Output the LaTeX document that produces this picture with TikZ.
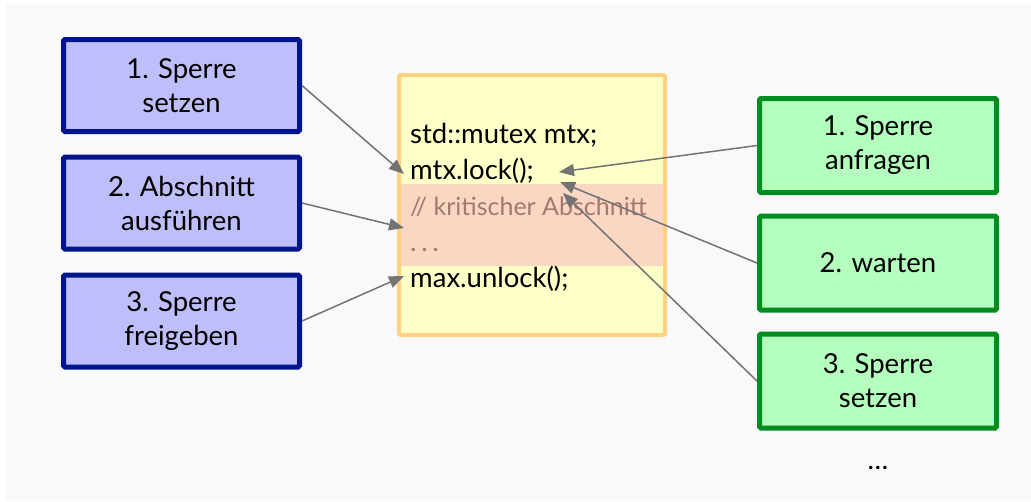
\documentclass[tikz,border=0pt]{standalone}
\usepackage{fontspec}
\setmainfont{Lato}
\usetikzlibrary{arrows.meta}
\definecolor{bgc}{RGB}{249,249,249}
\definecolor{bluebd}{RGB}{0,20,140}
\definecolor{bluefill}{RGB}{190,190,250}
\definecolor{greenbd}{RGB}{0,140,30}
\definecolor{greenfill}{RGB}{180,255,190}
\definecolor{orangebd}{RGB}{255,210,130}
\definecolor{yellowfill}{RGB}{255,255,200}
\definecolor{pinkband}{RGB}{250,215,195}
\definecolor{commentc}{RGB}{165,120,110}
\definecolor{arrowc}{RGB}{115,115,115}
\tikzset{
  bluebox/.style={draw=bluebd, fill=bluefill, line width=5pt, rounded corners=1.5pt,
    minimum width=236pt, minimum height=92pt, inner sep=0pt, align=center, font=\boxfont},
  greenbox/.style={draw=greenbd, fill=greenfill, line width=5pt, rounded corners=1.5pt,
    minimum width=237pt, minimum height=94pt, inner sep=0pt, align=center, font=\boxfont},
  codeline/.style={anchor=base west, inner sep=0pt, font=\boxfont},
  conn/.style={draw=arrowc, line width=1.5pt, -{Triangle[length=15pt,width=12pt]}},
}
\newcommand{\boxfont}{\fontsize{27.5}{34}\selectfont}
\newcommand{\commentfont}{\fontsize{25}{34}\selectfont}
\begin{document}
\begin{tikzpicture}[x=1pt,y=-1pt]
\useasboundingbox (0,0) rectangle (1031,501);
\fill[bgc] (6,4) rectangle (1031,501);
% center box
\fill[yellowfill] (399,75) rectangle (665,335);
\fill[pinkband] (399,184) rectangle (665,266);
\draw[orangebd, line width=4pt, rounded corners=1.5pt] (399,75) rectangle (665,335);
\node[codeline] (c1) at (410,143) {std::mutex mtx;};
\node[codeline] (c2) at (410,179) {mtx.lock();};
\node[codeline, text=commentc, font=\commentfont] (c3) at (410,215) {// kritischer Abschnitt};
\node[codeline, text=commentc] (c4) at (410,251) {.\,.\,.};
\node[codeline] (c5) at (410,287) {max.unlock();};
% left boxes
\node[bluebox] (b1) at (181.5,85.5) {1. Sperre\\setzen};
\node[bluebox] (b2) at (181.5,203) {2. Abschnitt\\ausführen};
\node[bluebox] (b3) at (181.5,321) {3. Sperre\\freigeben};
% right boxes
\node[greenbox] (g1) at (878,145.5) {1. Sperre\\anfragen};
\node[greenbox] (g2) at (878,263) {2. warten};
\node[greenbox] (g3) at (878,381) {3. Sperre\\setzen};
\node[font=\boxfont] (dots) at (878,468) {\dots};
% arrow targets
\coordinate (tl1) at (404,174);
\coordinate (tl2) at (404,228);
\coordinate (tl3) at (404,276);
\coordinate (tr1) at (559,172);
\coordinate (tr2) at (560,182);
\coordinate (tr3) at (563,193);
\draw[conn] (b1.east) -- (tl1);
\draw[conn] (b2.east) -- (tl2);
\draw[conn] (b3.east) -- (tl3);
\draw[conn] (g1.west) -- (tr1);
\draw[conn] (g2.west) -- (tr2);
\draw[conn] (g3.west) -- (tr3);
\end{tikzpicture}
\end{document}
